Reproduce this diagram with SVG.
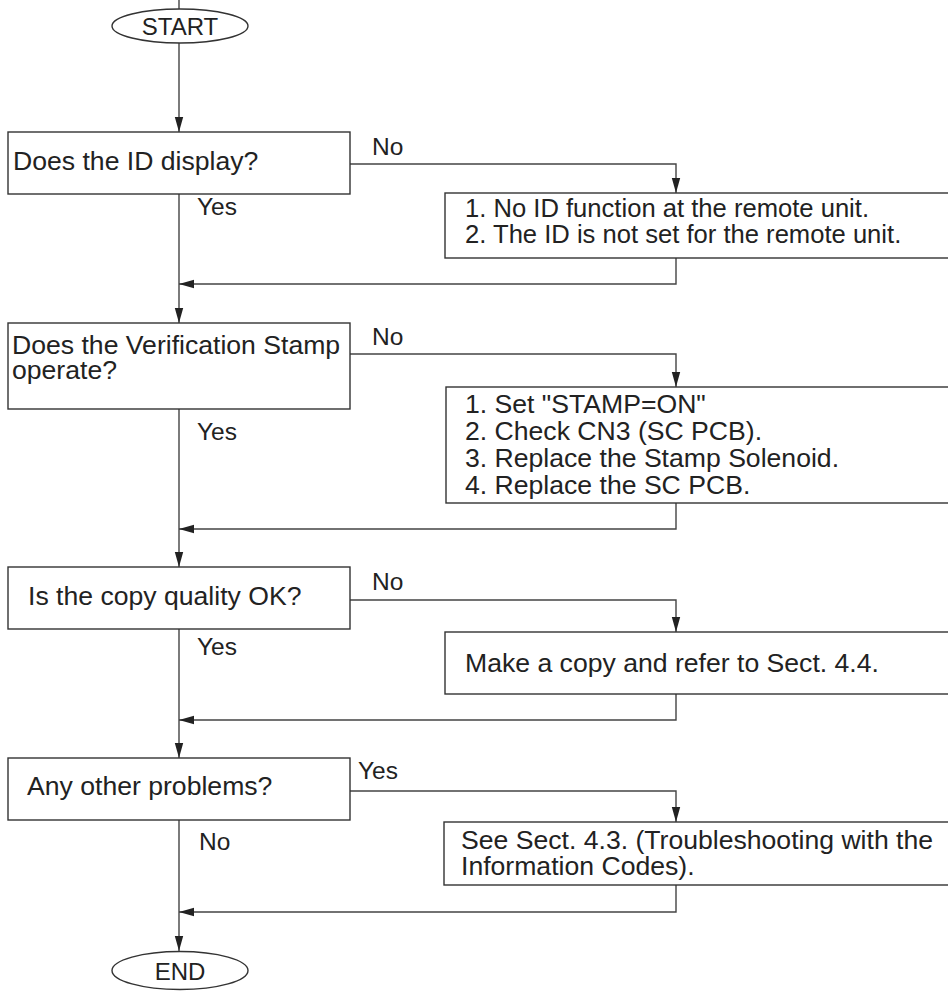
<svg xmlns="http://www.w3.org/2000/svg" width="948" height="992" viewBox="0 0 948 992">
<style>
.box{fill:#fff;stroke:#333;stroke-width:1.4}
.ln{fill:none;stroke:#444;stroke-width:1.4}
text{font-family:"Liberation Sans",Arial,sans-serif;fill:#222}
.t{font-size:26.6px}
.s{font-size:25.6px}
.l{font-size:24.5px}
.o{font-size:24px}
</style>
<defs>
<marker id="ah" markerUnits="userSpaceOnUse" markerWidth="16" markerHeight="10" refX="15" refY="5" orient="auto">
<path d="M0,0.8 L15,5 L0,9.2 z" fill="#222"/>
</marker>
</defs>
<rect width="948" height="992" fill="#fff"/>
<g id="connectors">
<line class="ln" x1="179" y1="0" x2="179" y2="9"/>
<line class="ln" x1="179" y1="43" x2="179" y2="132" marker-end="url(#ah)"/>
<polyline class="ln" points="350,164 676,164 676,193" marker-end="url(#ah)"/>
<line class="ln" x1="179" y1="194" x2="179" y2="323" marker-end="url(#ah)"/>
<polyline class="ln" points="676,258 676,284 179,284" marker-end="url(#ah)"/>
<polyline class="ln" points="350,354 676,354 676,387" marker-end="url(#ah)"/>
<line class="ln" x1="179" y1="409" x2="179" y2="567" marker-end="url(#ah)"/>
<polyline class="ln" points="676,503 676,529 179,529" marker-end="url(#ah)"/>
<polyline class="ln" points="350,600 676,600 676,632" marker-end="url(#ah)"/>
<line class="ln" x1="179" y1="629" x2="179" y2="758" marker-end="url(#ah)"/>
<polyline class="ln" points="676,694 676,720 179,720" marker-end="url(#ah)"/>
<polyline class="ln" points="350,791 676,791 676,822" marker-end="url(#ah)"/>
<line class="ln" x1="179" y1="820" x2="179" y2="951" marker-end="url(#ah)"/>
<polyline class="ln" points="676,885 676,912 179,912" marker-end="url(#ah)"/>
</g>
<g id="start">
<ellipse class="box" cx="180" cy="26" rx="68" ry="17"/>
<text class="o" x="180" y="35" text-anchor="middle">START</text>
</g>
<g id="q1">
<rect class="box" x="8" y="132" width="342" height="62"/>
<text class="t" x="13" y="170">Does the ID display?</text>
</g>
<g id="r1">
<rect class="box" x="445" y="193" width="505" height="65"/>
<text class="s" x="465" y="217">1. No ID function at the remote unit.</text>
<text class="s" x="465" y="243">2. The ID is not set for the remote unit.</text>
</g>
<g id="q2">
<rect class="box" x="8" y="323" width="342" height="86"/>
<text class="t" x="12" y="354">Does the Verification Stamp</text>
<text class="t" x="12" y="379">operate?</text>
</g>
<g id="r2">
<rect class="box" x="446" y="387" width="504" height="116"/>
<text class="t" x="465" y="413">1. Set "STAMP=ON"</text>
<text class="t" x="465" y="440">2. Check CN3 (SC PCB).</text>
<text class="t" x="465" y="467">3. Replace the Stamp Solenoid.</text>
<text class="t" x="465" y="494">4. Replace the SC PCB.</text>
</g>
<g id="q3">
<rect class="box" x="8" y="567" width="342" height="62"/>
<text class="t" x="28" y="605">Is the copy quality OK?</text>
</g>
<g id="r3">
<rect class="box" x="445" y="632" width="505" height="62"/>
<text class="t" x="465" y="672">Make a copy and refer to Sect. 4.4.</text>
</g>
<g id="q4">
<rect class="box" x="8" y="758" width="342" height="62"/>
<text class="t" x="27" y="795">Any other problems?</text>
</g>
<g id="r4">
<rect class="box" x="444" y="822" width="506" height="63"/>
<text class="t" x="461" y="849">See Sect. 4.3. (Troubleshooting with the</text>
<text class="t" x="461" y="875">Information Codes).</text>
</g>
<g id="end">
<ellipse class="box" cx="180" cy="970.5" rx="68" ry="19"/>
<text class="o" x="180" y="980" text-anchor="middle">END</text>
</g>
<g id="labels">
<text class="l" x="372" y="155">No</text>
<text class="l" x="197" y="215">Yes</text>
<text class="l" x="372" y="345">No</text>
<text class="l" x="197" y="440">Yes</text>
<text class="l" x="372" y="590">No</text>
<text class="l" x="197" y="655">Yes</text>
<text class="l" x="358" y="779">Yes</text>
<text class="l" x="199" y="850">No</text>
</g>
</svg>
